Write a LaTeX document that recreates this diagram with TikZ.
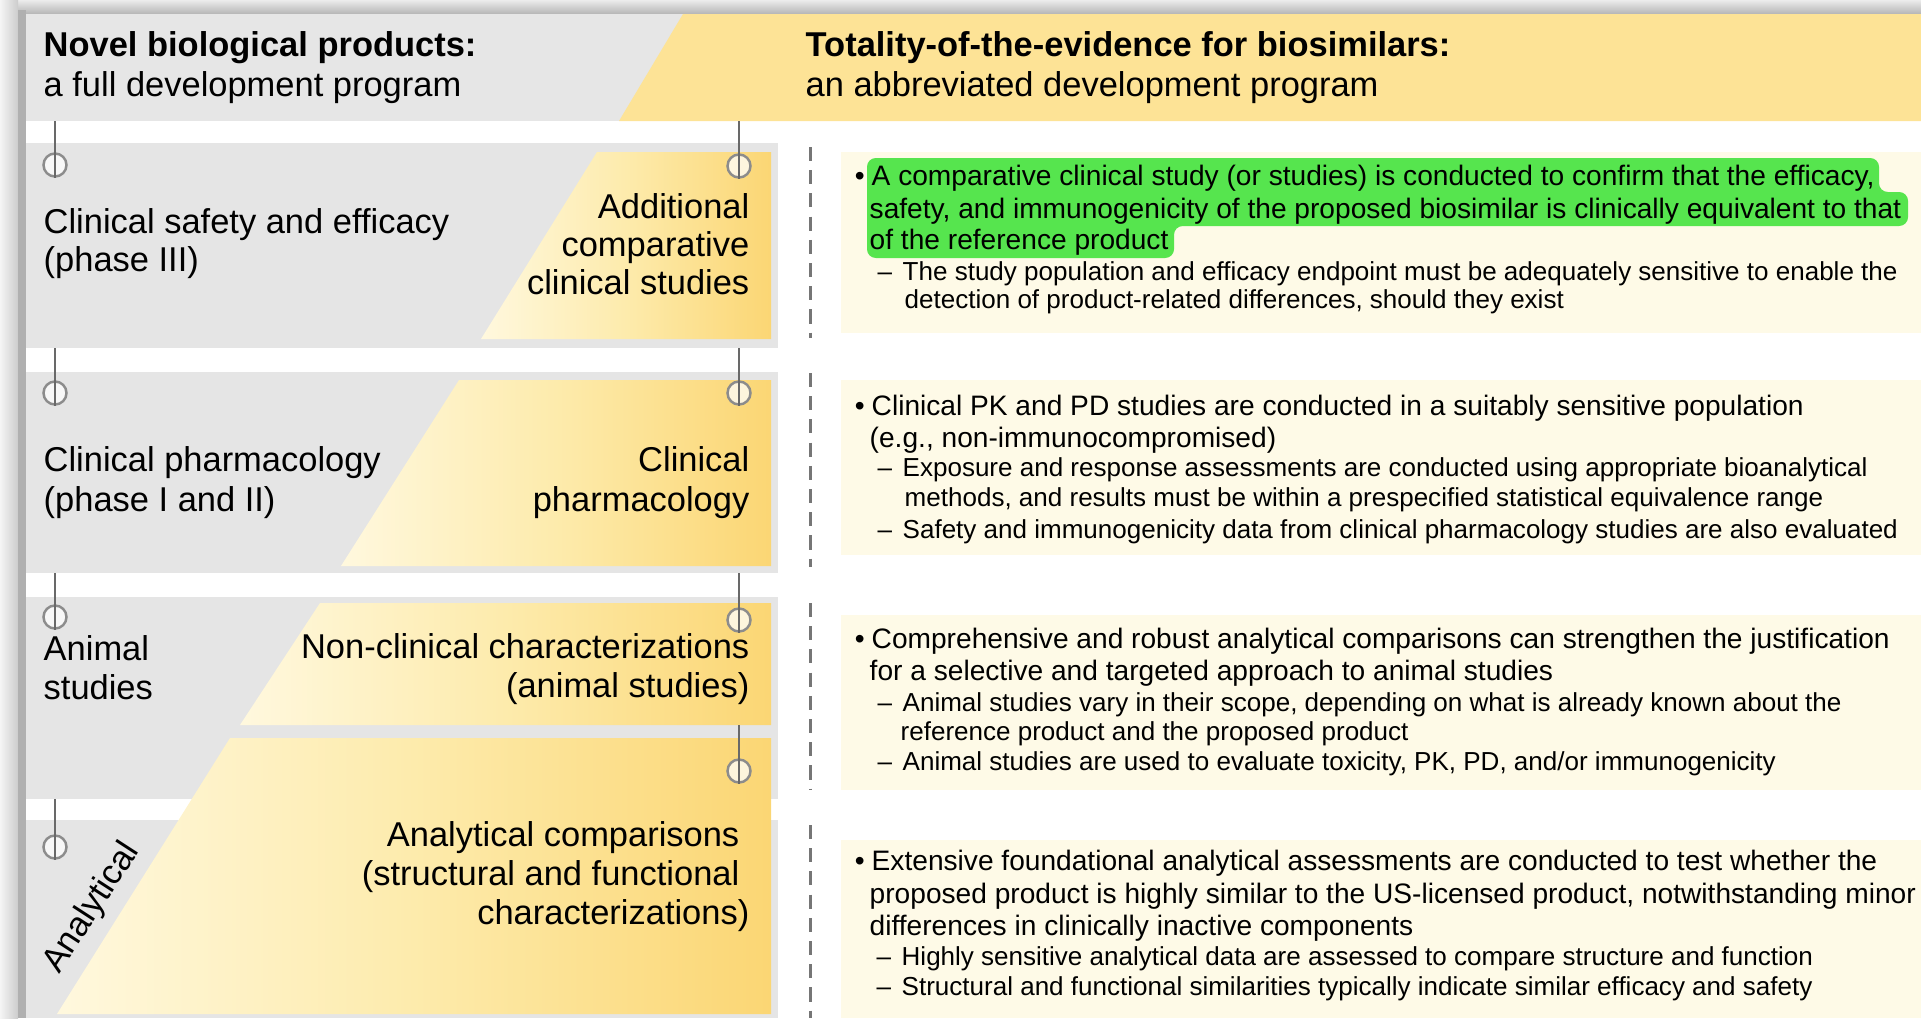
\documentclass[tikz,border=0pt]{standalone}
\usepackage{fontspec}
\setmainfont{Liberation Sans}

\definecolor{hdrgray}{RGB}{230,230,230}
\definecolor{hdrgold}{RGB}{253,227,150}
\definecolor{panelgray}{RGB}{229,229,229}
\definecolor{gold10}{RGB}{255,248,222}
\definecolor{gold20}{RGB}{253,235,172}
\definecolor{gold30}{RGB}{251,214,116}
\definecolor{cream}{RGB}{254,250,231}
\definecolor{hlgreen}{RGB}{86,229,78}
\definecolor{pindark}{RGB}{105,105,105}
\definecolor{pinring}{RGB}{140,140,140}
\definecolor{dashgray}{RGB}{118,118,118}

% bullet and dash hanging left of a line
\newcommand{\itemdot}{\llap{\textbullet\hspace{2pt}}}
\newcommand{\itemdash}{\llap{\textendash\hspace{3pt}}}

\begin{document}
\begin{tikzpicture}[x=0.01cm, y=-0.01cm,
  hdr/.style={font=\fontsize{9.8}{11}\selectfont, anchor=base west, inner sep=0pt},
  hdrb/.style={hdr, font=\fontsize{9.8}{11}\selectfont\bfseries},
  lbl/.style={font=\fontsize{9.8}{11}\selectfont, anchor=base west, inner sep=0pt},
  lblr/.style={lbl, anchor=base east},
  mainln/.style={font=\fontsize{8}{9.4}\selectfont, anchor=base west, inner sep=0pt},
  subln/.style={font=\fontsize{7.4}{8.6}\selectfont, anchor=base west, inner sep=0pt},
  pinhead/.style={circle, draw=pinring, line width=0.7pt, fill=white, fill opacity=0.75,
    minimum size=0.23cm, inner sep=0pt},
  pinstem/.style={draw=pindark, line width=0.5pt},
  divider/.style={draw=dashgray, line width=0.85pt, dash pattern=on 4pt off 2.6pt}]
  \useasboundingbox (0,0) rectangle (1921,1018);

  % frame
  \shade[top color=gray!15, bottom color=gray!55] (0,0) rectangle (1921,13);
  \shade[left color=gray!8, right color=gray!40] (0,0) rectangle (18,1018);
  \fill[gray!62] (18,10) rectangle (26,1018);

  % header band
  \fill[hdrgray] (26,14) rectangle (1921,121);
  \fill[hdrgold] (683,14) -- (1921,14) -- (1921,121) -- (619,121) -- cycle;

  % grey panels and yellow parts
  \foreach \t/\b in {143/348, 372/573, 597/799, 820/1018}
    \fill[panelgray] (26,\t) rectangle (778,\b);
  \foreach \t/\b/\l/\m in {152/339/597/481, 380/566/459/341, 603/725/320/240, 738/1014/230/57}
    \shade[left color=gold10, right color=gold30, middle color=gold20]
      (\l,\t) -- (771,\t) -- (771,\b) -- (\m,\b) -- cycle;

  % text boxes on the right
  \foreach \t/\b in {152/333, 380/555, 615/790, 840/1018}
    \fill[cream] (841,\t) rectangle (1921,\b);
  \fill[hlgreen, rounded corners=2.5pt] (867,158) -- (1879,158) -- (1879,192) -- (1908,192)
    -- (1908,226) -- (1174,226) -- (1174,258) -- (867,258) -- cycle;

  \foreach \t/\b in {147/338, 373/567, 603/790, 825/1018}
    \draw[divider] (810,\t) -- (810,\b);

  % pins
  \foreach \x/\a/\b [count=\i] in {55/121/165, 55/348/393, 55/573/617, 55/799/847,
      739/121/166, 739/348/393, 739/573/620, 739/725/771}{
    \coordinate (stem\i) at (\x,\a);
    \node[pinhead] (head\i) at (\x,\b) {};
    \draw[pinstem] (stem\i) -- (head\i.south);
  }

  % headings
  \node[hdrb] (novel) at (43,57) {Novel biological products:};
  \node[hdr] (fullprog) at (43,97) {a full development program};
  \node[hdrb] (totality) at (805,57) {Totality-of-the-evidence for biosimilars:};
  \node[hdr] (abbrprog) at (805,97) {an abbreviated development program};

  % left column
  \node[lbl] (safety) at (43,233) {Clinical safety and efficacy};
  \node[lbl] (phase3) at (43,271) {(phase III)};
  \node[lblr] (addl) at (750,218) {Additional};
  \node[lblr] (compar) at (750,256) {comparative};
  \node[lblr] (clinst) at (750,294) {clinical studies};
  \node[lbl] (pharm) at (43,471) {Clinical pharmacology};
  \node[lbl] (phase12) at (43,511) {(phase I and II)};
  \node[lblr] (clin) at (750,471) {Clinical};
  \node[lblr] (pharmc) at (750,511) {pharmacology};
  \node[lbl] (animal) at (43,660) {Animal};
  \node[lbl] (animst) at (43,699) {studies};
  \node[lblr] (nonclin) at (750,658) {Non-clinical characterizations};
  \node[lblr] (animst2) at (750,697) {(animal studies)};
  \node[lblr] (anacomp) at (740,846) {Analytical comparisons};
  \node[lblr] (strfun) at (740,885) {(structural and functional};
  \node[lblr] (charact) at (750,924) {characterizations)};
  \node[font=\fontsize{9.8}{11}\selectfont, rotate=57, inner sep=0pt] (analyt) at (92,908) {Analytical};

  % box 1
  \node[mainln] (b1a) at (871,185) {\itemdot A comparative clinical study (or studies) is conducted to confirm that the efficacy,};
  \node[mainln] (b1b) at (869,218) {safety, and immunogenicity of the proposed biosimilar is clinically equivalent to that};
  \node[mainln] (b1c) at (869,249) {of the reference product};
  \node[subln] (b1d) at (902,280) {\itemdash The study population and efficacy endpoint must be adequately sensitive to enable the};
  \node[subln] (b1e) at (904,308) {detection of product-related differences, should they exist};
  % box 2
  \node[mainln] (b2a) at (871,415) {\itemdot Clinical PK and PD studies are conducted in a suitably sensitive population};
  \node[mainln] (b2b) at (869,447) {(e.g., non-immunocompromised)};
  \node[subln] (b2c) at (902,476) {\itemdash Exposure and response assessments are conducted using appropriate bioanalytical};
  \node[subln] (b2d) at (904,506) {methods, and results must be within a prespecified statistical equivalence range};
  \node[subln] (b2e) at (902,538) {\itemdash Safety and immunogenicity data from clinical pharmacology studies are also evaluated};
  % box 3
  \node[mainln] (b3a) at (871,648) {\itemdot Comprehensive and robust analytical comparisons can strengthen the justification};
  \node[mainln] (b3b) at (869,680) {for a selective and targeted approach to animal studies};
  \node[subln] (b3c) at (902,711) {\itemdash Animal studies vary in their scope, depending on what is already known about the};
  \node[subln] (b3d) at (900,740) {reference product and the proposed product};
  \node[subln] (b3e) at (902,770) {\itemdash Animal studies are used to evaluate toxicity, PK, PD, and/or immunogenicity};
  % box 4
  \node[mainln] (b4a) at (871,870) {\itemdot Extensive foundational analytical assessments are conducted to test whether the};
  \node[mainln] (b4b) at (869,903) {proposed product is highly similar to the US-licensed product, notwithstanding minor};
  \node[mainln] (b4c) at (869,935) {differences in clinically inactive components};
  \node[subln] (b4d) at (901,965) {\itemdash Highly sensitive analytical data are assessed to compare structure and function};
  \node[subln] (b4e) at (901,995) {\itemdash Structural and functional similarities typically indicate similar efficacy and safety};
\end{tikzpicture}
\end{document}
